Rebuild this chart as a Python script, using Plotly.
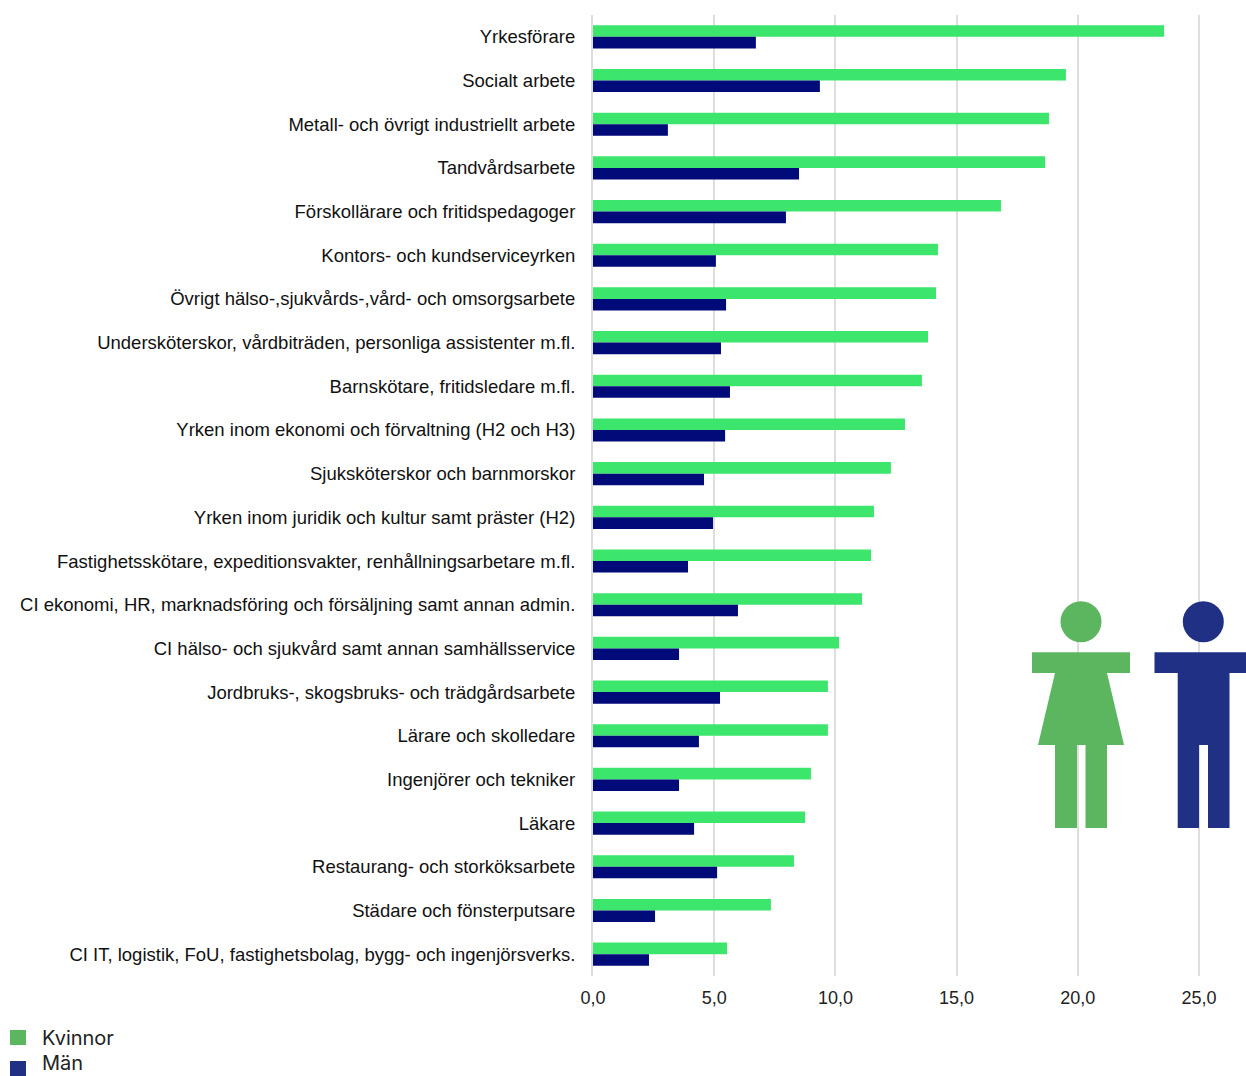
import plotly.graph_objects as go

categories = [
    "Yrkesförare", "Socialt arbete", "Metall- och övrigt industriellt arbete", "Tandvårdsarbete",
    "Förskollärare och fritidspedagoger", "Kontors- och kundserviceyrken",
    "Övrigt hälso-,sjukvårds-,vård- och omsorgsarbete",
    "Undersköterskor, vårdbiträden, personliga assistenter m.fl.", "Barnskötare, fritidsledare m.fl.",
    "Yrken inom ekonomi och förvaltning (H2 och H3)", "Sjuksköterskor och barnmorskor",
    "Yrken inom juridik och kultur samt präster (H2)",
    "Fastighetsskötare, expeditionsvakter, renhållningsarbetare m.fl.",
    "CI ekonomi, HR, marknadsföring och försäljning samt annan admin.",
    "CI hälso- och sjukvård samt annan samhällsservice", "Jordbruks-, skogsbruks- och trädgårdsarbete",
    "Lärare och skolledare", "Ingenjörer och tekniker", "Läkare", "Restaurang- och storköksarbete",
    "Städare och fönsterputsare", "CI IT, logistik, FoU, fastighetsbolag, bygg- och ingenjörsverks.",
]
kvinnor = [23.56, 19.51, 18.81, 18.65, 16.83, 14.23, 14.15, 13.82, 13.57, 12.87, 12.29,
           11.59, 11.47, 11.10, 10.15, 9.69, 9.69, 8.99, 8.75, 8.29, 7.34, 5.53]
man = [6.72, 9.36, 3.09, 8.50, 7.96, 5.07, 5.49, 5.28, 5.65, 5.45, 4.58,
       4.95, 3.92, 5.98, 3.55, 5.24, 4.37, 3.55, 4.17, 5.12, 2.56, 2.31]
x_ticks = [0, 5, 10, 15, 20, 25]
x_tick_labels = ["0,0", "5,0", "10,0", "15,0", "20,0", "25,0"]

W, H = 1246, 1076
L, R, T, B = 593, 1246, 15, 976
FONT = "Liberation Sans, Arial, sans-serif"
GREEN_BAR, NAVY_BAR = "#3ce56b", "#000a78"
GREEN, NAVY = "#5cb660", "#1f3085"


def px(v):
    return (v - L) / (R - L)


def py(v):
    return (B - v) / (B - T)


def rect(x0, y0, x1, y1, color):
    return dict(type="rect", xref="paper", yref="paper", x0=px(x0), x1=px(x1), y0=py(y0), y1=py(y1),
                fillcolor=color, line_width=0, layer="above")


def circle(cx, cy, r, color):
    return dict(type="circle", xref="paper", yref="paper", x0=px(cx - r), x1=px(cx + r),
                y0=py(cy + r), y1=py(cy - r), fillcolor=color, line_width=0, layer="above")


def poly(points, color):
    d = "M " + " L ".join(f"{px(a)},{py(b)}" for a, b in points) + " Z"
    return dict(type="path", xref="paper", yref="paper", path=d, fillcolor=color, line_width=0, layer="above")


shapes = [
    # woman
    circle(1081, 621.7, 20.5, GREEN),
    rect(1032, 652.3, 1130, 673, GREEN),
    poly([(1055, 673), (1107, 673), (1124, 745), (1038, 745)], GREEN),
    rect(1055, 745, 1077, 828, GREEN),
    rect(1085.5, 745, 1107, 828, GREEN),
    # man
    circle(1203.3, 621.7, 20.5, NAVY),
    rect(1154.5, 652.3, 1246, 673, NAVY),
    rect(1177.7, 673, 1229.5, 745, NAVY),
    rect(1177.7, 745, 1199, 828, NAVY),
    rect(1208, 745, 1229.5, 828, NAVY),
    # legend swatches
    rect(10, 1030, 26, 1045, GREEN),
    rect(10, 1061, 26, 1076, NAVY),
]

annotations = [
    dict(text=name, xref="paper", yref="paper", x=px(40), y=py(yc), xanchor="left", yanchor="middle",
         showarrow=False, font=dict(family="Inter, sans-serif", size=20, color="#222222"))
    for name, yc in (("Kvinnor", 1038), ("Män", 1063))
]

fig = go.Figure()
fig.add_trace(go.Bar(name="Kvinnor", y=categories, x=kvinnor, orientation="h", marker=dict(color=GREEN_BAR, line_width=0)))
fig.add_trace(go.Bar(name="Män", y=categories, x=man, orientation="h", marker=dict(color=NAVY_BAR, line_width=0)))
fig.update_layout(
    width=W, height=H, margin=dict(l=L, r=W - R, t=T, b=H - B, pad=0),
    autosize=False, barmode="group", bargap=0.47, bargroupgap=0,
    plot_bgcolor="white", paper_bgcolor="white", showlegend=False,
    font=dict(family=FONT, size=18, color="#222222"),
    shapes=shapes, annotations=annotations,
)
fig.update_xaxes(range=[0, (R - L) / 24.24], tickvals=x_ticks, ticktext=x_tick_labels, showgrid=True,
                 gridcolor="#dedede", gridwidth=2, zeroline=False, showline=False, ticks="",
                 tickfont=dict(size=18, color="#222222"), ticklabelstandoff=9)
fig.update_yaxes(autorange="reversed", type="category", showgrid=False, zeroline=False, showline=True,
                 linecolor="#dedede", linewidth=2, ticks="", ticklabelstandoff=12,
                 tickfont=dict(size=18.5, color="#111111"))
fig.write_html("out.html", config={"displayModeBar": False},
               post_script="document.body.style.margin='0';document.documentElement.style.overflow='hidden';")
